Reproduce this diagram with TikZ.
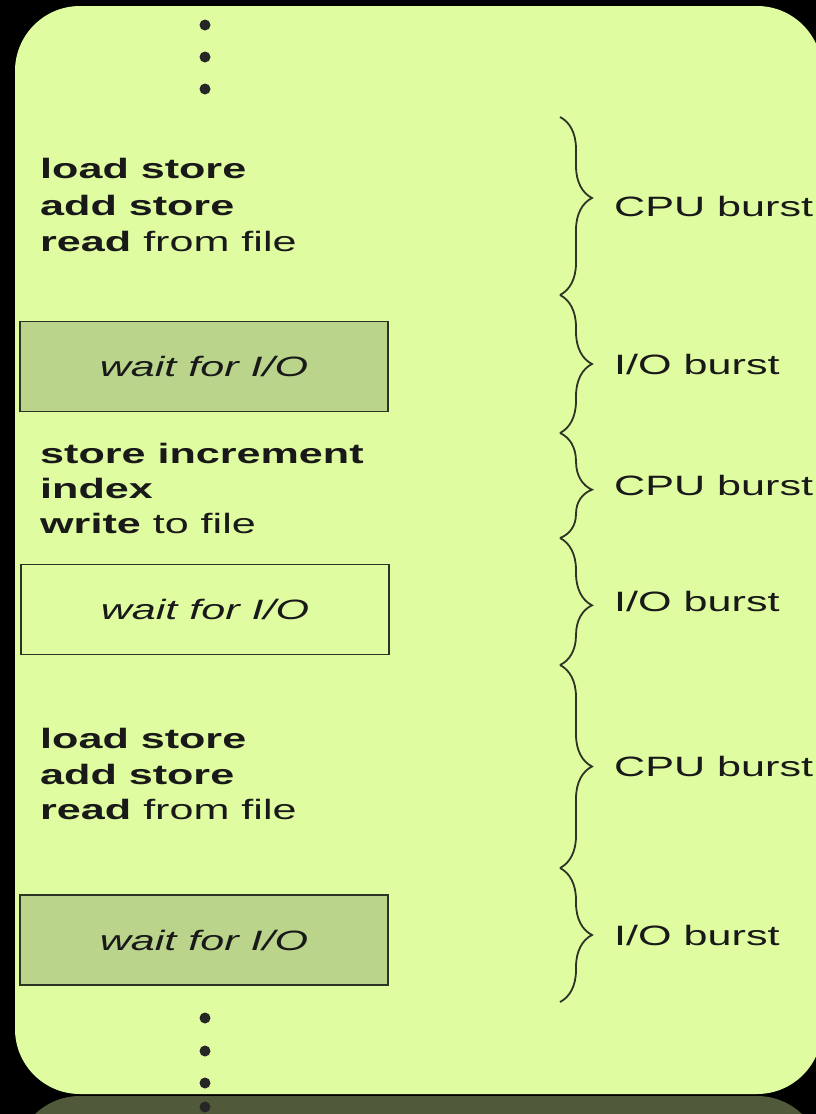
\documentclass[tikz,border=0pt]{standalone}
\usepackage{fontspec}
\newfontfamily\wide[FakeStretch=1.54]{Liberation Sans}
\usetikzlibrary{decorations.pathreplacing,positioning}
\definecolor{slidegreen}{RGB}{224,252,160}
\definecolor{waitgreen}{RGB}{186,212,140}
\definecolor{mirrorgreen}{RGB}{80,90,58}
\definecolor{inkgray}{RGB}{45,52,38}
\tikzset{x=1pt, y=-1pt, % pixel-like units, y grows downwards
every node/.style={font=\wide\fontsize{28}{36}\selectfont, text=black!90}, % the wide sans of the slide
}

\begin{document}
\begin{tikzpicture}[
	code/.style={anchor=base west, inner sep=0pt},
	waitbox/.style={draw=inkgray, line width=1.2pt, fill=#1, minimum width=368pt, minimum height=90pt, inner sep=0pt,
		font=\wide\itshape\fontsize{28}{36}\selectfont},
	waitbox/.default=waitgreen,
	burst/.style={draw=inkgray, line width=1.8pt, decorate, decoration={brace, amplitude=32pt, aspect=#1}},
	burst/.default=0.5,
	dot/.style={circle, fill=black!85, inner sep=0pt, minimum size=11pt}]
\useasboundingbox (0,0) rectangle (816,1114);
\fill[black] (0,0) rectangle (816,1114);
\begin{scope}
\clip (0,0) rectangle (816,1114);
\fill[mirrorgreen, rounded corners=65pt] (15,1096) rectangle (822,2180);
\fill[slidegreen, rounded corners=65pt] (15,6) rectangle (822,1094);
\end{scope}
% the dots above and below
\foreach \y/\n in {25/a,57/b,89/c}
	\node[dot] (top\n) at (205,\y) {};
\foreach \y/\n in {1018/a,1051/b,1083/c,1107/d}
	\node[dot] (bot\n) at (205,\y) {};
% instructions
\node[code] (load1) at (40,178) {\textbf{load store}};
\node[code] (add1) at (40,215) {\textbf{add store}};
\node[code] (read1) at (40,251) {\textbf{read} from file};
\node[waitbox] (wait1) at (204,366.5) {wait for I/O};
\node[code] (store2) at (40,463) {\textbf{store increment}};
\node[code] (index2) at (40,498) {\textbf{index}};
\node[code] (write2) at (40,533) {\textbf{write} to file};
\node[waitbox=slidegreen] (wait2) at (205,609.5) {wait for I/O};
\node[code] (load3) at (40,748) {\textbf{load store}};
\node[code] (add3) at (40,784) {\textbf{add store}};
\node[code] (read3) at (40,819) {\textbf{read} from file};
\node[waitbox] (wait3) at (204,940) {wait for I/O};
% bursts
\coordinate (c0) at (560,117);
\coordinate (c1) at (560,295);
\coordinate (c2) at (560,433);
\coordinate (c3) at (560,538);
\coordinate (c4) at (560,665);
\coordinate (c5) at (560,868);
\coordinate (c6) at (560,1002);
\draw[burst=0.455] (c0) -- (c1) node[midway, anchor=west, xshift=50pt] (cpu1) {CPU burst};
\draw[burst] (c1) -- (c2) node[midway, anchor=west, xshift=50pt] (io1) {I/O burst};
\draw[burst=0.54] (c2) -- (c3) node[midway, anchor=west, xshift=50pt] (cpu2) {CPU burst};
\draw[burst=0.53] (c3) -- (c4) node[midway, anchor=west, xshift=50pt] (io2) {I/O burst};
\draw[burst] (c4) -- (c5) node[midway, anchor=west, xshift=50pt] (cpu3) {CPU burst};
\draw[burst] (c5) -- (c6) node[midway, anchor=west, xshift=50pt] (io3) {I/O burst};
\end{tikzpicture}
\end{document}
